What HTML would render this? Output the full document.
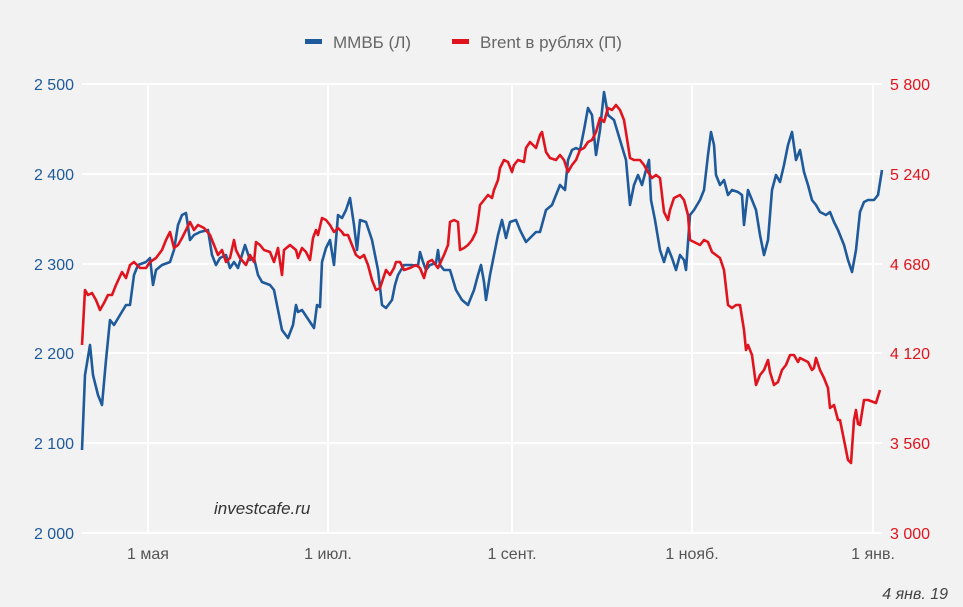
<!DOCTYPE html>
<html><head><meta charset="utf-8"><style>
html,body{margin:0;padding:0;background:#f2f2f2;}
svg{display:block;font-family:"Liberation Sans","DejaVu Sans",sans-serif;}
</style></head><body>
<svg width="963" height="607" viewBox="0 0 963 607" xmlns="http://www.w3.org/2000/svg">
<rect width="963" height="607" fill="#f2f2f2"/>
<g stroke="#ffffff" stroke-width="2">
<line x1="82" y1="84" x2="882" y2="84"/><line x1="82" y1="174" x2="882" y2="174"/>
<line x1="82" y1="264" x2="882" y2="264"/><line x1="82" y1="353" x2="882" y2="353"/>
<line x1="82" y1="443" x2="882" y2="443"/><line x1="82" y1="533" x2="882" y2="533"/>
<line x1="148" y1="84" x2="148" y2="533"/><line x1="328" y1="84" x2="328" y2="533"/>
<line x1="512" y1="84" x2="512" y2="533"/><line x1="692" y1="84" x2="692" y2="533"/>
<line x1="873" y1="84" x2="873" y2="533"/>
</g>
<g font-size="16" fill="#1f5a9a" text-anchor="end">
<text x="74" y="90">2 500</text><text x="74" y="180">2 400</text><text x="74" y="270">2 300</text>
<text x="74" y="359">2 200</text><text x="74" y="449">2 100</text><text x="74" y="539">2 000</text>
</g>
<g font-size="16" fill="#e0141e">
<text x="890" y="90">5 800</text><text x="890" y="180">5 240</text><text x="890" y="270">4 680</text>
<text x="890" y="359">4 120</text><text x="890" y="449">3 560</text><text x="890" y="539">3 000</text>
</g>
<g font-size="16" fill="#555" text-anchor="middle">
<text x="148" y="559">1 мая</text><text x="328" y="559">1 июл.</text><text x="512" y="559">1 сент.</text>
<text x="692" y="559">1 нояб.</text><text x="873" y="559">1 янв.</text>
</g>
<text x="948" y="599" font-size="16" font-style="italic" fill="#444" text-anchor="end">4 янв. 19</text>
<text x="214" y="514" font-size="17" font-style="italic" fill="#333">investcafe.ru</text>
<rect x="305" y="39" width="17" height="5" fill="#1f5a9a"/>
<text x="333" y="48" font-size="17" fill="#666">ММВБ (Л)</text>
<rect x="452" y="39" width="17" height="5" fill="#e0141e"/>
<text x="480" y="48" font-size="17" fill="#666">Brent в рублях (П)</text>
<polyline fill="none" stroke="#1f5a9a" stroke-width="2.6" stroke-linejoin="round" points="82,450 85,375 90,345 93,375 98,395 102,405 106,360 110,320 114,325 120,315 126,305 130,305 134,275 138,265 146,262 150,258 153,285 156,270 162,265 170,262 174,250 178,225 182,215 186,213 190,240 194,235 200,232 208,230 212,255 216,265 220,258 226,255 230,268 234,262 238,268 245,245 250,260 254,258 258,275 262,282 270,285 274,290 278,310 282,330 288,338 293,325 296,305 298,312 302,310 310,322 314,328 317,305 320,307 322,262 326,248 330,240 334,265 338,215 342,218 346,210 350,198 354,225 357,250 360,220 366,222 372,240 378,270 382,305 386,308 392,300 395,285 398,275 404,265 408,265 412,265 418,266 420,252 423,262 426,270 430,265 436,263 438,250 440,265 444,270 450,270 456,290 462,300 468,305 474,290 478,275 481,265 484,282 486,300 490,275 494,255 498,235 502,220 506,238 510,222 516,220 520,230 526,242 530,238 536,232 540,232 546,210 552,205 556,195 560,185 565,190 568,160 572,150 576,148 580,150 584,130 588,108 592,115 596,155 600,130 604,92 608,115 614,120 620,140 626,160 630,205 634,185 638,175 642,185 646,170 649,160 651,200 655,220 660,250 664,262 668,248 672,258 676,270 680,255 684,260 686,270 690,215 694,210 700,200 704,190 708,155 711,132 714,145 716,175 720,185 724,180 728,195 732,190 738,192 742,195 744,225 748,190 752,200 756,210 760,235 764,255 768,240 772,190 776,175 780,182 784,165 788,145 792,132 796,160 800,150 804,172 808,185 812,200 816,205 820,212 826,215 830,212 834,222 838,230 844,245 848,260 852,272 856,250 860,212 864,202 868,200 874,200 878,195 882,170"/>
<polyline fill="none" stroke="#e0141e" stroke-width="2.6" stroke-linejoin="round" points="82,345 85,290 88,295 92,293 96,300 100,310 104,303 108,295 112,295 116,285 122,272 126,278 130,265 134,262 140,268 146,268 150,262 156,258 162,250 166,240 170,232 174,248 178,245 182,238 186,230 190,222 194,230 198,225 204,228 210,235 214,245 218,255 222,250 226,262 230,258 234,240 236,250 240,258 246,265 250,255 254,262 256,242 260,245 264,250 270,252 274,262 278,248 282,275 284,250 290,245 296,250 298,258 302,248 306,252 310,260 313,238 316,230 318,235 322,218 326,220 330,225 334,232 338,228 342,232 344,235 348,235 352,245 356,255 360,258 364,255 368,265 372,280 376,290 380,288 386,270 390,275 394,268 396,262 400,262 404,270 410,268 416,265 420,268 424,278 428,262 432,260 438,268 444,255 448,245 450,222 454,220 458,222 460,250 464,248 468,245 472,240 476,232 478,220 480,205 484,200 488,195 492,198 494,190 498,180 500,168 504,160 508,162 512,172 514,165 518,160 524,162 526,148 530,142 536,148 540,135 542,132 546,152 550,158 556,160 560,155 564,160 568,172 572,165 576,160 580,150 584,148 588,142 592,140 596,132 600,118 604,122 608,108 612,110 616,105 620,110 624,120 628,145 630,158 634,160 640,160 644,165 648,172 652,178 656,175 660,178 664,212 668,220 670,210 674,198 680,195 684,200 688,215 690,240 694,242 700,245 704,240 708,242 712,252 716,255 720,258 724,270 728,305 732,308 736,305 740,305 744,330 746,350 748,345 752,355 756,385 760,375 764,370 768,360 770,372 774,385 778,382 782,370 786,365 790,355 794,355 798,362 800,358 804,360 808,362 812,370 814,368 816,358 820,370 824,378 828,388 830,408 834,405 838,420 840,420 844,440 848,460 851,463 854,420 856,410 858,424 860,425 864,400 868,400 876,403 880,390"/>
</svg>
</body></html>
